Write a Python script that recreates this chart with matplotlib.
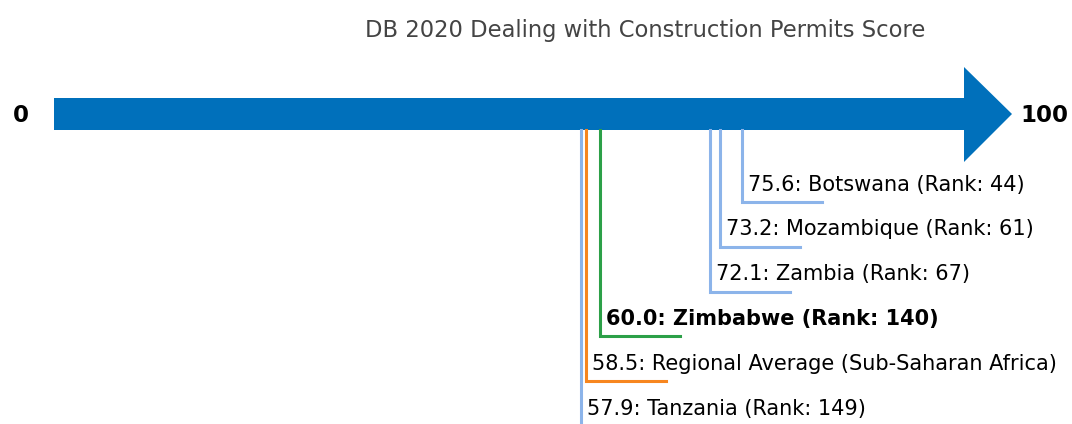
import matplotlib.pyplot as plt
from matplotlib.patches import Polygon

# -------------------------------------------------------------

title = "DB 2020 Dealing with Construction Permits Score"
scores = [75.6, 73.2, 72.1, 60.0, 58.5, 57.9]
names = ["Botswana", "Mozambique", "Zambia", "Zimbabwe",
         "Regional Average (Sub-Saharan Africa)", "Tanzania"]
ranks = [44, 61, 67, 140, None, 149]
colors = ["#8cb4ea", "#8cb4ea", "#8cb4ea", "#2ca048", "#f7861f", "#8cb4ea"]
bold = [False, False, False, True, False, False]
scale_min, scale_max = 0, 100

# -------------------------------------------------------------

fig = plt.figure(figsize=(10.72, 4.24), dpi=100)
ax = fig.add_axes([0, 0, 1, 1])
px = 9.1  # pixels per score unit
ax.set_xlim(-54 / px, (1072 - 54) / px)
ax.set_ylim(424, 0)
ax.axis("off")

# arrow
head = 48 / px
arrow = Polygon([(scale_min, 98), (scale_max, 98), (scale_max, 67),
                 (scale_max + head, 114), (scale_max, 162), (scale_max, 130),
                 (scale_min, 130)], closed=True, color="#0070bb", lw=0)
ax.add_patch(arrow)

ax.text(scale_min - 3.6, 115, str(scale_min), ha="center", va="center",
        fontsize=16.5, fontweight="bold")
ax.text(scale_max + 6.2, 115, str(scale_max), ha="left", va="center",
        fontsize=16.5, fontweight="bold")

ax.text((645 - 54) / px, 31, title, ha="center", va="center",
        fontsize=16.3, color="#444444")

# -------------------------------------------------------------

y0 = 202
step = 44.8
for i, (s, n, r, c, b) in enumerate(zip(scores, names, ranks, colors, bold)):
    y = y0 + i * step
    ax.plot([s, s, s + 80 / px], [130, y, y], color=c, lw=2.2,
            solid_joinstyle="miter", zorder=1)
    label = f"{s:.1f}: {n}" if r is None else f"{s:.1f}: {n} (Rank: {r})"
    ax.text(s + 6 / px, y - 17.5, label, ha="left", va="center", fontsize=15,
            fontweight="bold" if b else "normal")

fig.savefig("out.png", dpi=100)
